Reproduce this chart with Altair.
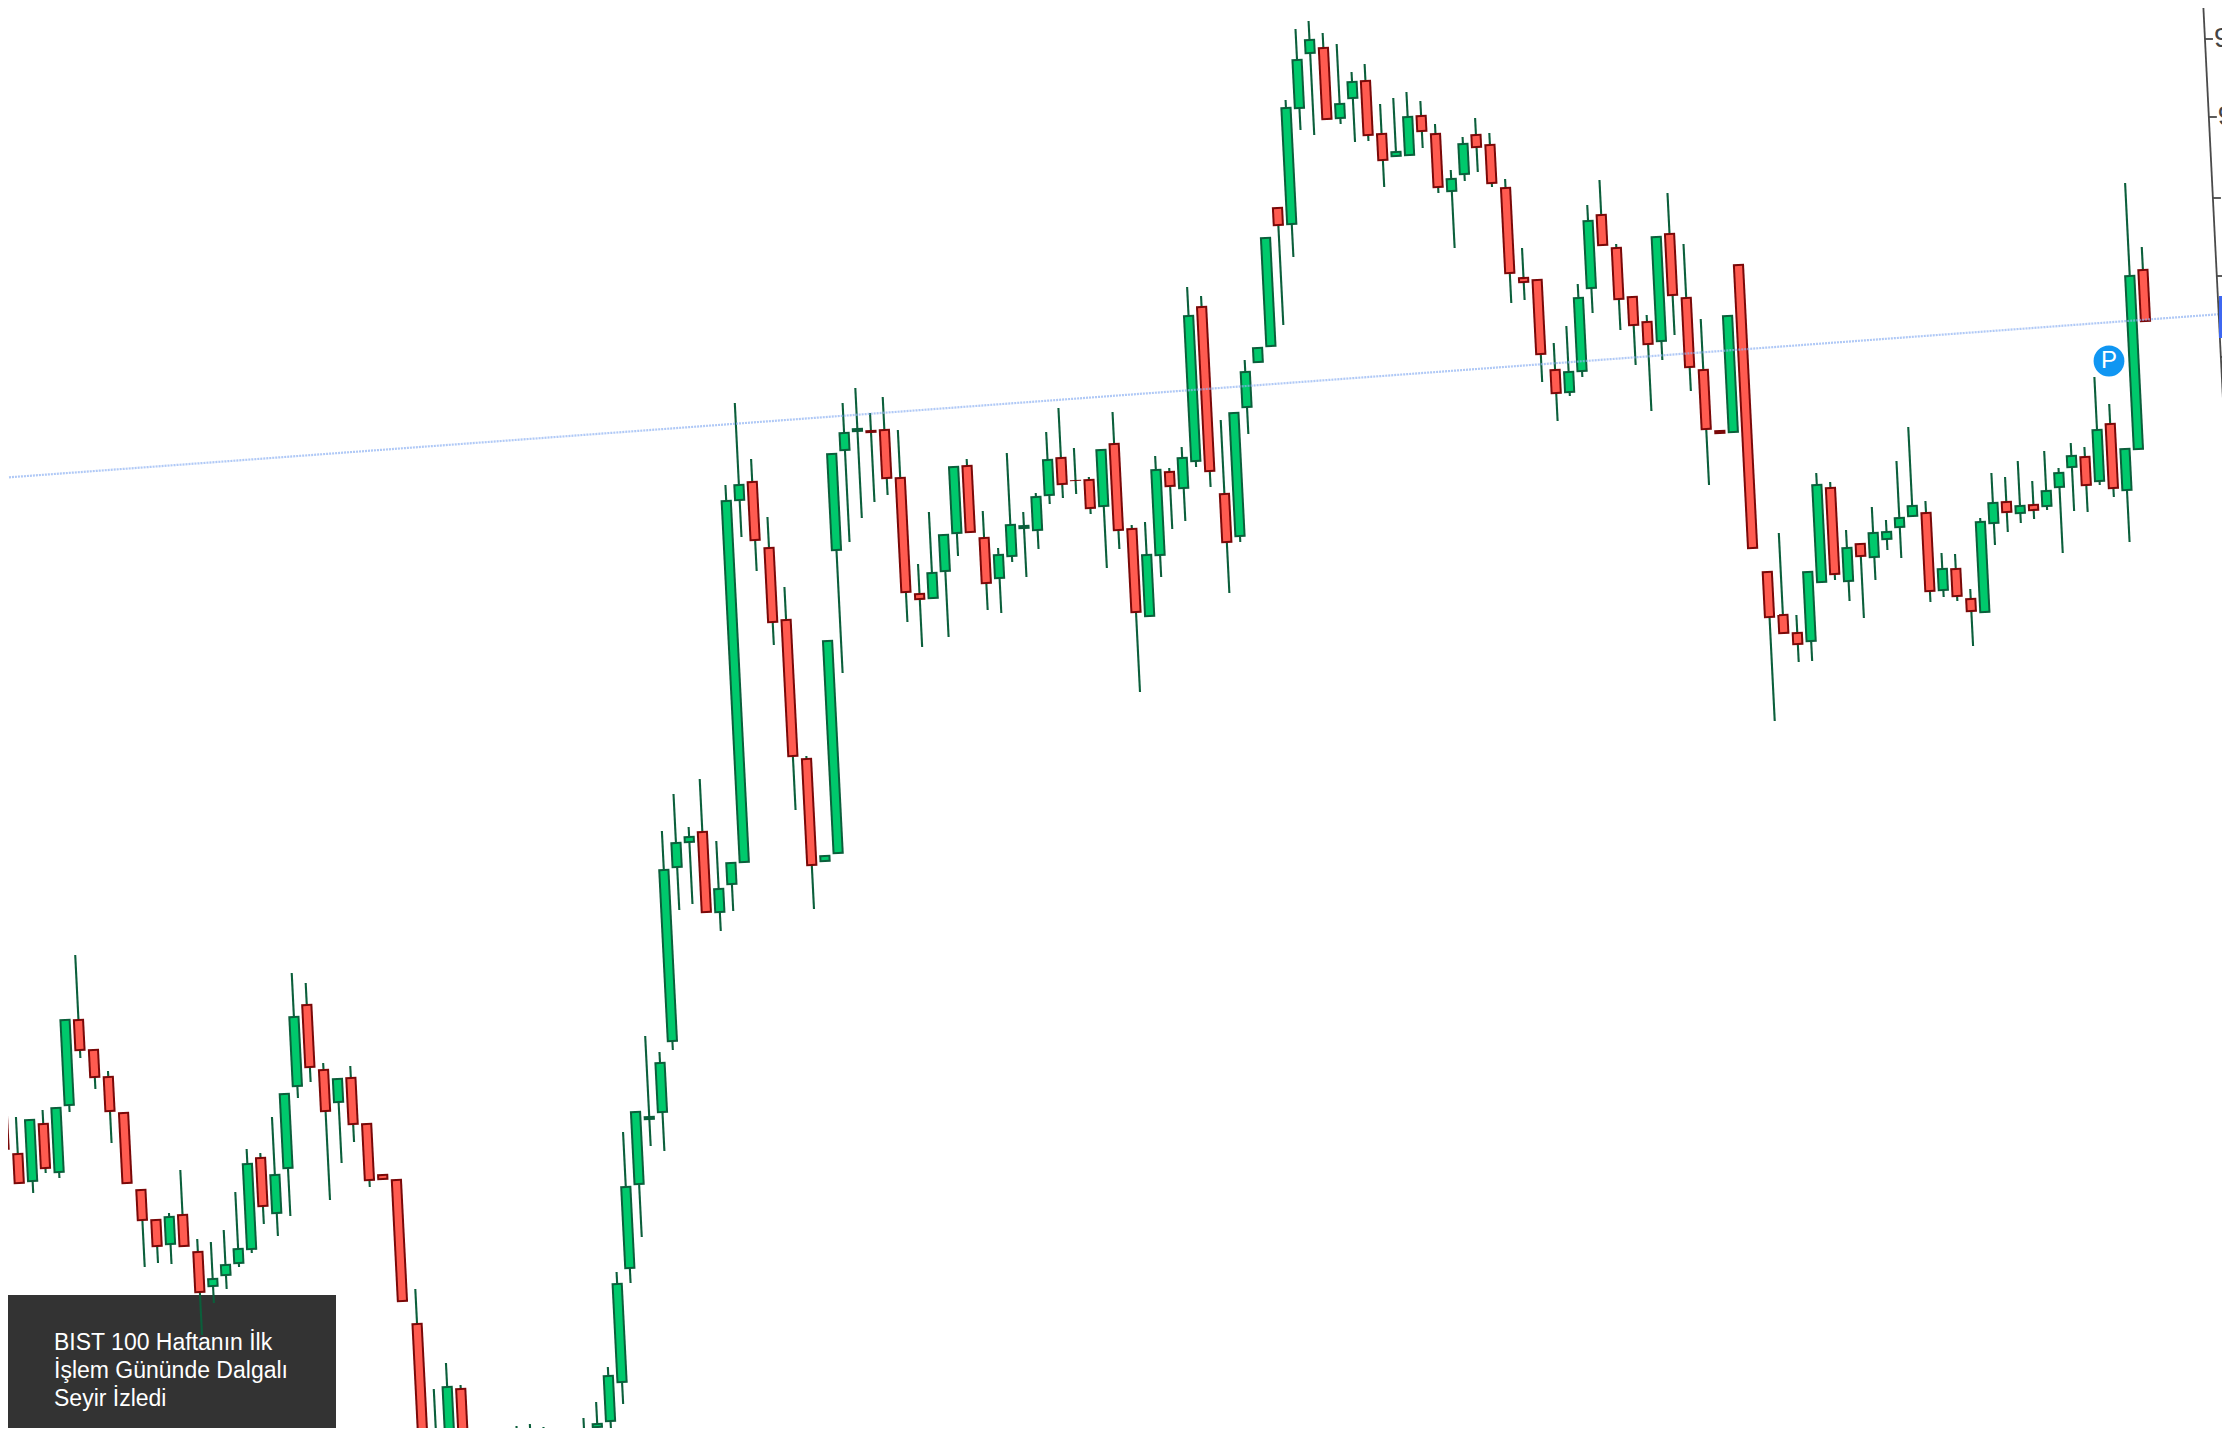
import altair as alt
import pandas as pd

# Chart levels (larger level = lower on the chart), one entry per session 1..163
directions = ("RRGRGGRRRR" "RRGRRGGGGR" "GGGRRGRRRR" "RGGRRGRGGR" "GGGGGGGGGG"
              "GGGRGGGGRR" "RRGGGGGRRR" "RGGGRRGGGG" "GRRRGRRGGR" "GGRRGGGGRG"
              "GGRGGRRGGR" "RGGRRRRRRG" "GGRRRRGRRR" "RGRRRRGGRG" "RGGGGRGRRG"
              "GRGRGGGRGR" "GGR")
body_top = [1079,1153,1119,1123,1107,1019,1019,1049,1076,1112,
            1189,1219,1216,1214,1251,1278,1264,1248,1163,1157,
            1174,1093,1016,1004,1069,1078,1077,1123,1174,1179,
            1323,1445,1386,1388,1500,1505,1500,1445,1433,1434,
            1450,1445,1432,1423,1375,1283,1186,1111,1116,1062,
            869,842,836,831,888,862,500,484,481,547,
            619,758,855,640,453,432,428,430,429,477,
            593,572,534,466,465,537,554,524,525,496,
            459,457,480,479,449,443,528,554,469,471,
            457,315,306,493,412,371,347,237,207,107,
            59,39,47,103,81,80,133,151,116,115,
            133,178,143,134,144,187,277,279,369,371,
            297,220,214,247,296,321,236,233,297,369,
            430,315,264,571,614,632,571,484,487,547,
            543,532,531,517,505,512,568,568,598,521,
            502,501,505,504,490,472,455,456,429,423,
            448,275,269]
body_bot = [1150,1184,1182,1169,1173,1106,1051,1078,1112,1184,
            1221,1247,1245,1247,1293,1287,1276,1264,1250,1207,
            1214,1169,1087,1068,1112,1103,1125,1181,1180,1302,
            1433,1480,1500,1500,1520,1525,1520,1470,1460,1460,
            1465,1460,1450,1428,1422,1383,1269,1185,1120,1113,
            1042,868,843,913,913,885,863,501,541,623,
            757,866,862,854,551,451,432,433,479,593,
            600,599,572,534,533,584,579,557,529,531,
            496,485,481,509,507,531,613,617,556,487,
            489,462,472,543,537,408,363,347,226,225,
            109,54,120,119,99,136,161,157,156,132,
            188,192,175,148,184,274,283,355,394,393,
            372,289,246,300,326,345,342,296,368,430,
            434,433,549,618,634,645,642,583,575,582,
            557,558,540,528,517,592,591,597,612,613,
            524,513,514,511,507,488,468,486,482,489,
            491,450,322]
wick_top = [1072,1117,1119,1110,1107,1019,955,1049,1071,1112,
            1189,1219,1213,1170,1239,1242,1230,1192,1149,1153,
            1117,1093,973,983,1063,1078,1066,1123,1174,1179,
            1289,1389,1363,1385,1490,1495,1480,1426,1424,1427,
            1440,1432,1418,1402,1367,1272,1132,1111,1036,1052,
            831,794,827,779,841,862,485,403,459,517,
            587,756,855,640,453,403,388,413,397,430,
            564,512,534,466,459,511,548,453,512,493,
            432,408,448,477,449,412,525,522,456,468,
            447,287,296,420,412,360,347,237,207,100,
            29,21,33,44,72,64,104,98,92,101,
            124,170,137,118,133,179,248,279,343,326,
            284,205,180,244,296,315,236,193,244,319,
            430,315,264,571,533,615,571,473,482,530,
            543,507,520,461,427,501,553,554,589,518,
            473,477,461,481,451,468,443,447,377,404,
            448,183,247]
wick_bot = [1164,1184,1193,1173,1178,1112,1058,1089,1143,1184,
            1267,1263,1264,1247,1335,1303,1289,1267,1253,1224,
            1236,1216,1098,1082,1200,1163,1142,1187,1180,1302,
            1440,1490,1510,1510,1530,1535,1530,1480,1470,1470,
            1475,1470,1460,1445,1445,1404,1283,1237,1146,1151,
            1050,910,904,913,931,911,863,537,571,645,
            810,909,862,854,673,542,518,502,495,622,
            647,599,637,556,533,610,613,562,577,549,
            504,498,494,514,568,549,692,617,577,529,
            521,467,487,593,542,434,363,347,325,257,
            130,135,120,124,142,141,187,157,156,148,
            193,248,181,172,187,303,300,382,421,396,
            377,313,246,330,365,411,360,335,391,485,
            434,433,549,721,634,662,661,583,580,601,
            618,580,550,558,517,602,597,601,646,613,
            545,532,523,519,510,553,511,512,485,497,
            542,450,322]
axis_ticks = [39, 117, 198, 276, 357, 435]
tick_labels = ["9", "9", "9"]
headline = ["BIST 100 Haftanın İlk", "İşlem Gününde Dalgalı", "Seyir İzledi"]

STEP, ORIGIN, LEAN = 13.474, -66.84, 0.05
GREEN, RED, DGREEN, DRED = "#00C96C", "#FF5B50", "#0B5F3B", "#7A0808"
INSET = 2.0
VIEW_W, VIEW_H = 2214, 1420


def lean(session, level):
    return ORIGIN + STEP * session + LEAN * level


rows = []
for i, d in enumerate(directions):
    s = i + 1
    rows.append(dict(session=s, dir=d, top=body_top[i], bot=body_bot[i],
                     hi=wick_top[i], lo=wick_bot[i],
                     x_top=lean(s, body_top[i]), x_bot=lean(s, body_bot[i]),
                     x_hi=lean(s, wick_top[i]), x_lo=lean(s, wick_bot[i]),
                     in_top=body_top[i] + INSET, in_bot=body_bot[i] - INSET,
                     xi_top=lean(s, body_top[i] + INSET), xi_bot=lean(s, body_bot[i] - INSET)))
df = pd.DataFrame(rows)

xs = alt.Scale(domain=[8, 8 + VIEW_W], range=[0, VIEW_W], nice=False, zero=False)
ys = alt.Scale(domain=[8, 8 + VIEW_H], range=[0, VIEW_H], nice=False, zero=False)


def X(f):
    return alt.X(f, type="quantitative", scale=xs, axis=None)


def Y(f):
    return alt.Y(f, type="quantitative", scale=ys, axis=None)


def seg(data, x, y, x2, y2):
    return alt.Chart(data).encode(x=X(x), y=Y(y), x2=alt.X2(x2), y2=alt.Y2(y2))


# dark caption panel
panel = alt.Chart(pd.DataFrame([dict(a=5, b=336, c=1295, d=1435)])).mark_rect(color="#333333").encode(
    x=X("a"), x2=alt.X2("b"), y=Y("c"), y2=alt.Y2("d"))

wicks = seg(df, "x_hi", "hi", "x_lo", "lo").mark_rule(color=DGREEN, strokeWidth=2.1)
outline = seg(df, "x_top", "top", "x_bot", "bot").mark_rule(strokeWidth=11.2).encode(
    color=alt.Color("dir:N", scale=alt.Scale(domain=["G", "R"], range=[DGREEN, DRED]), legend=None))
fill = seg(df[df.in_bot > df.in_top], "xi_top", "in_top", "xi_bot", "in_bot").mark_rule(strokeWidth=7.2).encode(
    stroke=alt.Stroke("dir:N", scale=alt.Scale(domain=["G", "R"], range=[GREEN, RED]), legend=None))

# last-price line
price = pd.DataFrame([dict(x=0, y=478, x2=2222, y2=314)])
price_line = seg(price, "x", "y", "x2", "y2").mark_rule(
    color="#8FB2F2", strokeWidth=2.2, strokeDash=[2, 1], opacity=0.7)

# right-hand axis
spine_df = pd.DataFrame([dict(y=0, y2=560, x=2203, x2=2203 + LEAN * 560)])
spine = seg(spine_df, "x", "y", "x2", "y2").mark_rule(color="#4A4A4A", strokeWidth=1.8)
tick_df = pd.DataFrame([dict(y=t, y2=t, x=2203 + LEAN * t, x2=2203 + LEAN * t + 8) for t in axis_ticks])
ticks = seg(tick_df, "x", "y", "x2", "y2").mark_rule(color="#4A4A4A", strokeWidth=1.8)
lab_df = pd.DataFrame([dict(y=t, x=2203 + LEAN * t + 9, t=l) for t, l in zip(axis_ticks, tick_labels)])
labels = alt.Chart(lab_df).mark_text(font="Liberation Sans", fontSize=28, color="#444444",
                                     align="left", baseline="middle").encode(x=X("x"), y=Y("y"), text="t:N")

# blue last-price tag
tag = alt.Chart(pd.DataFrame([dict(a=2219, b=2232, c=296, d=338)])).mark_rect(color="#3D67F2").encode(
    x=X("a"), x2=alt.X2("b"), y=Y("c"), y2=alt.Y2("d"))

# P badge
badge_df = pd.DataFrame([dict(x=2109, y=361, t="P")])
badge = alt.Chart(badge_df).mark_circle(color="#1096F2", opacity=1, size=950).encode(x=X("x"), y=Y("y"))
badge_t = alt.Chart(badge_df).mark_text(font="Liberation Sans", fontSize=24, color="white",
                                        align="center", baseline="middle").encode(x=X("x"), y=Y("y"), text="t:N")

# caption text
cap_df = pd.DataFrame([dict(x=54, y=1350 + 28 * i, t=t) for i, t in enumerate(headline)])
caption = alt.Chart(cap_df).mark_text(font="Liberation Sans", fontSize=23, color="white",
                                      align="left", baseline="alphabetic").encode(x=X("x"), y=Y("y"), text="t:N")

chart = alt.layer(panel, wicks, outline, fill, price_line, spine, ticks, labels, tag,
                  badge, badge_t, caption).properties(
    width=VIEW_W, height=VIEW_H, padding=0, background="white",
    autosize=alt.AutoSizeParams(type="none"),
).configure_view(stroke=None)

chart.save("out.html", embed_options={"renderer": "svg", "actions": False})
